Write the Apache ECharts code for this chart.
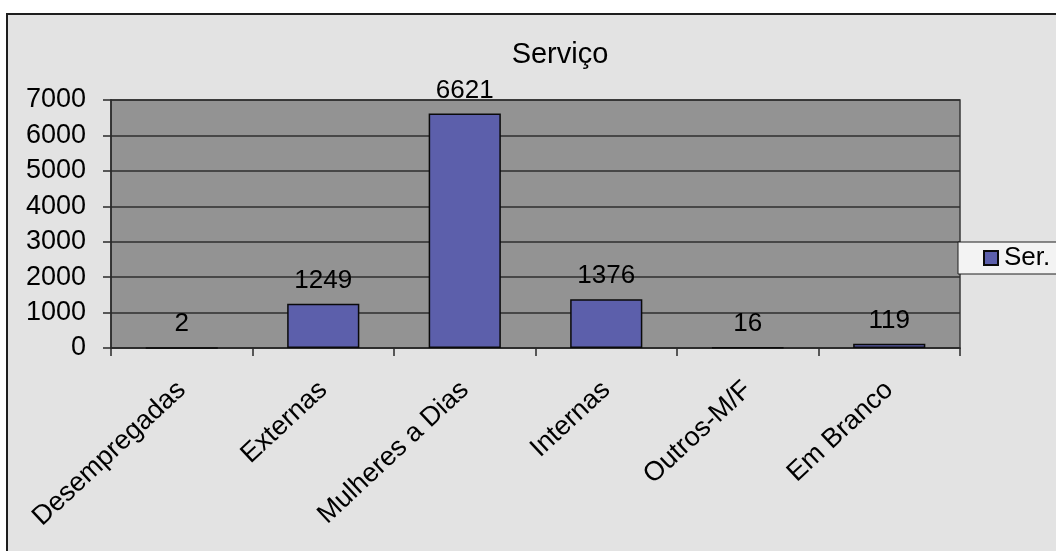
<!DOCTYPE html>
<html>
<head>
<meta charset="utf-8">
<script src="https://cdn.jsdelivr.net/npm/echarts@6/dist/echarts.min.js"></script>
<style>
  html, body { margin: 0; padding: 0; background: #ffffff; overflow: hidden; }
  #frame { position: absolute; left: 6px; top: 13px; width: 1200px; height: 700px;
           background: #e3e3e3; border: 2px solid #1e1e1e; box-sizing: border-box; }
  #chart { position: absolute; left: 0; top: 0; width: 1056px; height: 551px; }
</style>
</head>
<body>
<div id="frame"></div>
<div id="chart"></div>
<script>
// Service types and counts
const categories = ['Desempregadas', 'Externas', 'Mulheres a Dias', 'Internas', 'Outros-M/F', 'Em Branco'];
const values = [2, 1249, 6621, 1376, 16, 119];
const seriesName = 'Ser.';
const chartTitle = 'Serviço';
const yMin = 0, yMax = 7000, yStep = 1000;

const font = 'Liberation Sans, Arial, sans-serif';
const chart = echarts.init(document.getElementById('chart'), null, { renderer: 'canvas' });

chart.setOption({
  backgroundColor: 'transparent',
  animation: false,
  title: {
    text: chartTitle,
    left: 555,
    top: 35,
    textAlign: 'center',
    textStyle: { fontFamily: font, fontSize: 29, fontWeight: 'normal', color: '#000' }
  },
  legend: {
    data: [seriesName],
    left: 958,
    top: 242,
    orient: 'vertical',
    padding: [3, 80, 3, 25],
    backgroundColor: '#f3f3f3',
    borderColor: '#1e1e1e',
    borderWidth: 1,
    borderRadius: 0,
    icon: 'rect',
    itemWidth: 14,
    itemHeight: 14,
    itemGap: 6,
    textStyle: { fontFamily: font, fontSize: 26, color: '#000', padding: [0, 0, 0, 1] }
  },
  grid: {
    left: 111, right: 96, top: 100, bottom: 203,
    show: true,
    backgroundColor: '#939393',
    borderColor: '#3a3a3a',
    borderWidth: 1.5
  },
  xAxis: {
    type: 'category',
    data: categories,
    boundaryGap: true,
    axisLine: { lineStyle: { color: '#2a2a2a', width: 1.5 } },
    axisTick: { show: true, alignWithLabel: false, length: 8, inside: false,
                lineStyle: { color: '#2a2a2a', width: 1.5 } },
    axisLabel: { rotate: 43, interval: 0, margin: 38, fontFamily: font, fontSize: 27, color: '#000' },
    splitLine: { show: false }
  },
  yAxis: {
    type: 'value',
    min: yMin, max: yMax, interval: yStep,
    axisLine: { show: true, lineStyle: { color: '#2a2a2a', width: 1.5 } },
    axisTick: { show: true, length: 8, lineStyle: { color: '#2a2a2a', width: 1.5 } },
    axisLabel: { margin: 25, fontFamily: font, fontSize: 27, color: '#000',
                 formatter: v => String(v) },
    splitLine: { show: true, lineStyle: { color: '#2e2e2e', width: 1.5 } }
  },
  series: [{
    name: seriesName,
    type: 'bar',
    data: values,
    barWidth: '51%',
    itemStyle: { color: '#5c5fab', borderColor: '#0a0a0a', borderWidth: 1.5 },
    label: {
      show: true, position: 'top', distance: 10,
      fontFamily: font, fontSize: 26, color: '#000'
    }
  }]
});
</script>
</body>
</html>
